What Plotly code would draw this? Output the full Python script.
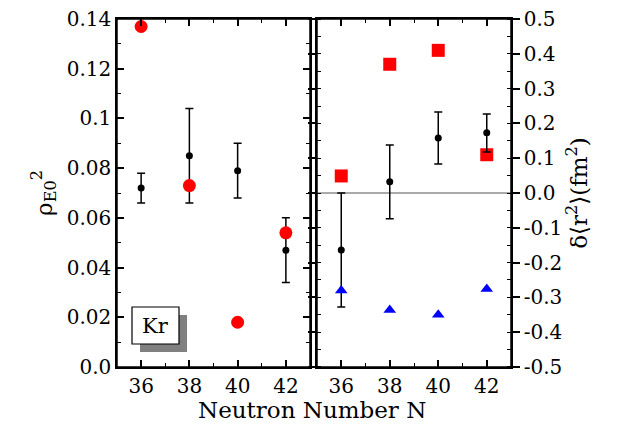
import plotly.graph_objects as go

N = [36, 38, 40, 42]

# left panel: rho^2(E0)
rho_exp = [0.072, 0.085, 0.079, 0.047]
rho_up = [0.006, 0.019, 0.011, 0.013]
rho_dn = [0.006, 0.019, 0.011, 0.013]
rho_theo = [0.137, 0.073, 0.018, 0.054]

# right panel: delta <r^2>
dr_exp = [-0.164, 0.032, 0.158, 0.173]
dr_up = [0.164, 0.106, 0.075, 0.054]
dr_dn = [0.164, 0.106, 0.075, 0.055]
dr_sq = [0.049, 0.37, 0.41, 0.11]
dr_tri = [-0.28, -0.336, -0.35, -0.276]

FONT = "DejaVu Serif"
W, H = 620, 428
def px(x): return x / W
def py(y): return 1 - y / H

fig = go.Figure()
fig.add_trace(go.Scatter(x=N, y=rho_exp, mode="markers", marker=dict(color="black", size=7),
                         error_y=dict(type="data", array=rho_up, arrayminus=rho_dn, color="black", thickness=1.5, width=4),
                         xaxis="x", yaxis="y"))
fig.add_trace(go.Scatter(x=N, y=rho_theo, mode="markers", marker=dict(color="red", size=13),
                         cliponaxis=False, xaxis="x", yaxis="y"))
fig.add_trace(go.Scatter(x=[35, 43], y=[0, 0], mode="lines", line=dict(color="#555", width=1),
                         xaxis="x2", yaxis="y2"))
fig.add_trace(go.Scatter(x=N, y=dr_sq, mode="markers", marker=dict(color="red", size=13, symbol="square"),
                         xaxis="x2", yaxis="y2"))
fig.add_trace(go.Scatter(x=N, y=dr_exp, mode="markers", marker=dict(color="black", size=7),
                         error_y=dict(type="data", array=dr_up, arrayminus=dr_dn, color="black", thickness=1.5, width=4),
                         xaxis="x2", yaxis="y2"))
fig.add_trace(go.Scatter(x=N, y=dr_tri, mode="markers", marker=dict(color="blue", size=11, symbol="triangle-up"),
                         xaxis="x2", yaxis="y2"))

ax = dict(showgrid=False, zeroline=False, showline=True, linecolor="black", linewidth=1.5,
          mirror="ticks", ticks="inside", ticklen=7, tickwidth=1.5, tickcolor="black", automargin=False,
          tickfont=dict(family=FONT, size=20, color="black"))
xax = dict(ax, range=[35, 43], tickvals=N, mirror="allticks",
           minor=dict(tickvals=[37, 39, 41], ticks="inside", ticklen=4, tickwidth=1.2, tickcolor="black"))
ydom = [py(367), py(19)]

frame = dict(type="rect", x0=0, x1=1, y0=0, y1=1, line=dict(color="black", width=1.5), layer="above")

fig.update_layout(
    width=W, height=H, margin=dict(l=0, r=0, t=0, b=0),
    paper_bgcolor="white", plot_bgcolor="white", showlegend=False,
    xaxis=dict(xax, domain=[px(117), px(310)], anchor="y"),
    xaxis2=dict(xax, domain=[px(317), px(511)], anchor="y2"),
    yaxis=dict(ax, domain=ydom, anchor="x", range=[0, 0.14001], tickvals=[0, 0.02, 0.04, 0.06, 0.08, 0.1, 0.12, 0.14],
               ticktext=["0.0", "0.02", "0.04", "0.06", "0.08", "0.1", "0.12", "0.14"],
               minor=dict(dtick=0.01, ticks="inside", ticklen=4, tickwidth=1.2, tickcolor="black"),
               title=dict(text="ρ<sub>E0</sub><sup>2</sup>", font=dict(family=FONT, size=23, color="black"), standoff=8)),
    yaxis2=dict(ax, domain=ydom, anchor="x2", side="right", range=[-0.5001, 0.5001], ticks="outside", mirror="allticks",
                tickvals=[0.5, 0.4, 0.3, 0.2, 0.1, 0, -0.1, -0.2, -0.3, -0.4, -0.5],
                ticktext=["0.5", "0.4", "0.3", "0.2", "0.1", "0.0", "-0.1", "-0.2", "-0.3", "-0.4", "-0.5"],
                minor=dict(dtick=0.05, ticks="inside", ticklen=4, tickwidth=1.2, tickcolor="black"),
                title=dict(text="δ⟨r<sup>2</sup>⟩(fm<sup>2</sup>)", font=dict(family=FONT, size=23, color="black"), standoff=8)),
    annotations=[
        dict(text="Neutron Number N", x=px(312), y=py(410), xref="paper", yref="paper", showarrow=False,
             xanchor="center", yanchor="middle", font=dict(family=FONT, size=23, color="black")),
        dict(text="Kr", x=px(155.5), y=py(326), xref="paper", yref="paper", showarrow=False,
             xanchor="center", yanchor="middle", font=dict(family=FONT, size=21, color="black")),
    ],
    shapes=[
        dict(frame, xref="x domain", yref="y domain"),
        dict(frame, xref="x2 domain", yref="y2 domain"),
        dict(type="rect", xref="paper", yref="paper", x0=px(140), x1=px(187), y0=py(352), y1=py(315),
             fillcolor="#808080", line=dict(width=0)),
        dict(type="rect", xref="paper", yref="paper", x0=px(132), x1=px(179), y0=py(344), y1=py(307),
             fillcolor="white", line=dict(color="black", width=1.2)),
    ],
)

fig.write_html("out.html", config={"displayModeBar": False},
               post_script="document.body.style.margin='0';document.body.style.overflow='hidden';")
